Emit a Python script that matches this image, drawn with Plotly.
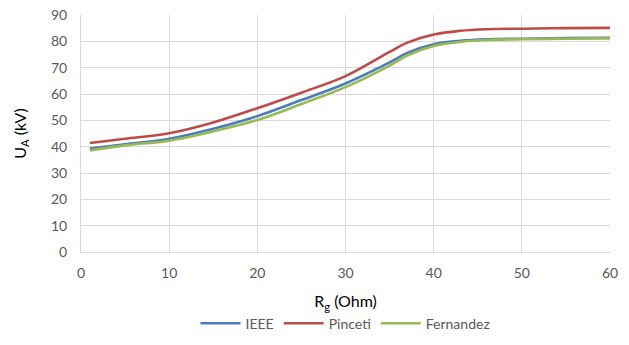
import plotly.graph_objects as go

# Gate resistance (Ohm) and overvoltage U_A (kV) for three models
rg = [1, 5, 10, 15, 20, 25, 30, 35, 37, 40, 43, 46, 50, 55, 60]
ieee = [39.3, 40.9, 43.0, 46.8, 51.6, 57.7, 64.0, 72.0, 75.6, 78.9, 80.2, 80.8, 81.0, 81.2, 81.3]
pinceti = [41.4, 43.0, 45.1, 49.2, 54.6, 60.5, 66.8, 76.0, 79.5, 82.6, 84.0, 84.6, 84.8, 85.0, 85.1]
fernandez = [38.6, 40.5, 42.3, 45.8, 50.1, 56.2, 62.6, 70.8, 74.6, 78.2, 79.8, 80.5, 80.8, 81.0, 81.2]

series = [
    ("IEEE", ieee, "#4a7ebb"),
    ("Pinceti", pinceti, "#be4b48"),
    ("Fernandez", fernandez, "#98b954"),
]

fig = go.Figure()
for name, vals, color in series:
    fig.add_trace(go.Scatter(
        x=rg, y=vals, name=name, mode="lines",
        line=dict(color=color, width=2.6, shape="spline", smoothing=1.0),
    ))

grid = "#d9d9d9"
fig.update_layout(
    width=629, height=345,
    margin=dict(l=81, r=19, t=15, b=93, autoexpand=False),
    paper_bgcolor="white", plot_bgcolor="white",
    font=dict(family="Lato, Liberation Sans, sans-serif", color="#595959", size=14),
    showlegend=True,
    legend=dict(orientation="h", x=0.5, xanchor="center", y=-0.235, yanchor="top",
                font=dict(size=14, color="#595959"), traceorder="normal",
                itemwidth=40),
    xaxis=dict(range=[0, 60], dtick=10, showgrid=True, gridcolor=grid, gridwidth=1,
               zeroline=False, showline=True, linecolor=grid, linewidth=1,
               ticks="", ticklabelstandoff=8,
               title=dict(text="R<sub>g</sub> (Ohm)", font=dict(size=16, color="#000000"),
                          standoff=16)),
    yaxis=dict(range=[0, 90], dtick=10, showgrid=True, gridcolor=grid, gridwidth=1,
               zeroline=False, showline=True, linecolor=grid, linewidth=1,
               ticks="", ticklabelstandoff=10,
               title=dict(text="U<sub>A</sub> (kV)", font=dict(size=16, color="#000000"),
                          standoff=20)),
)

fig.write_html("out.html")
